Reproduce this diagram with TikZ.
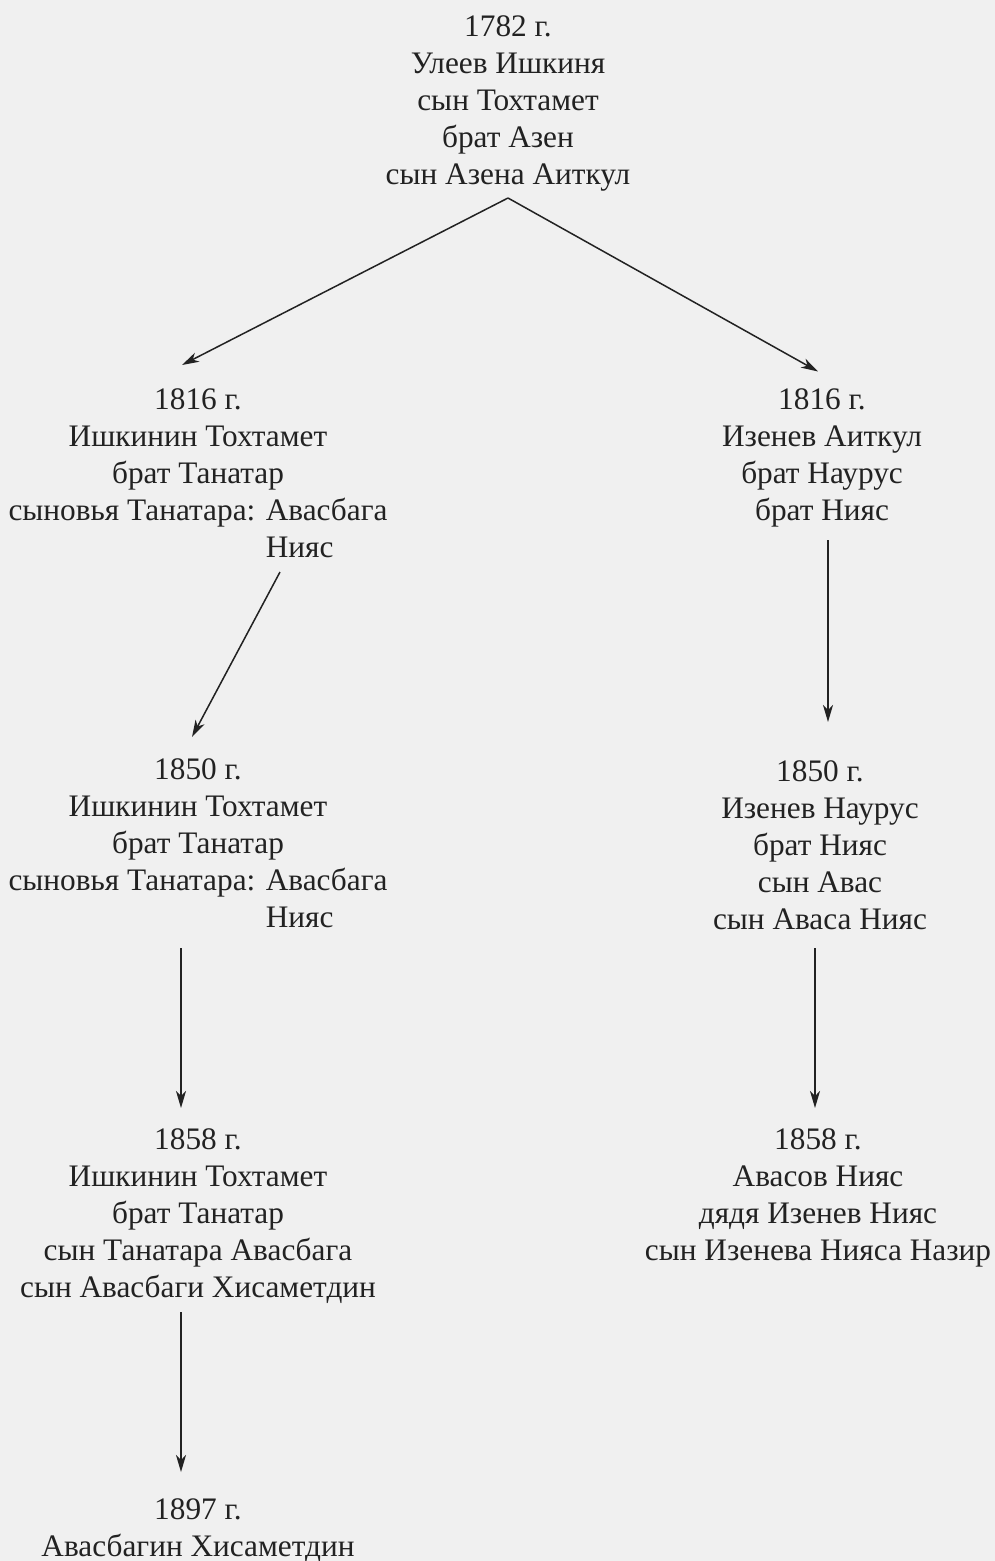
\documentclass[tikz,border=0pt]{standalone}
\usepackage{fontspec}
\setmainfont{Liberation Serif}
\usetikzlibrary{arrows.meta}
\definecolor{bg}{HTML}{F0F0F0}
\definecolor{ink}{HTML}{222222}
\tikzset{
  gen/.style={align=center, inner sep=0pt, text=ink, font=\fontsize{31.3}{37}\selectfont},
  arr/.style={draw=ink, line width=1.5pt, -{Stealth[length=17pt,width=10pt,inset=5pt]}}
}
\begin{document}
\begin{tikzpicture}[x=1pt,y=-1pt]
\fill[bg] (0,0) rectangle (995,1561);
\useasboundingbox (0,0) rectangle (995,1561);
\node[gen] (top) at (508,103) {1782 г.\\Улеев Ишкиня\\сын Тохтамет\\брат Азен\\сын Азена Аиткул};
\node[gen] (l1816) at (198,476) {1816 г.\\Ишкинин Тохтамет\\брат Танатар\\сыновья Танатара: Авасбага\\\phantom{сыновья Танатара: }\rlap{Нияс}\phantom{Авасбага}};
\node[gen] (r1816) at (822,457.5) {1816 г.\\Изенев Аиткул\\брат Наурус\\брат Нияс};
\node[gen] (l1850) at (198,846) {1850 г.\\Ишкинин Тохтамет\\брат Танатар\\сыновья Танатара: Авасбага\\\phantom{сыновья Танатара: }\rlap{Нияс}\phantom{Авасбага}};
\node[gen] (r1850) at (820,845) {1850 г.\\Изенев Наурус\\брат Нияс\\сын Авас\\сын Аваса Нияс};
\node[gen] (l1858) at (198,1216) {1858 г.\\Ишкинин Тохтамет\\брат Танатар\\сын Танатара Авасбага\\сын Авасбаги Хисаметдин};
\node[gen] (r1858) at (818,1197.5) {1858 г.\\Авасов Нияс\\дядя Изенев Нияс\\сын Изенева Нияса Назир};
\node[gen] (l1897) at (198,1530.5) {1897 г.\\Авасбагин Хисаметдин};
\draw[arr] ([shift={(0,95)}]top.center) -- ([shift={(-16,-111)}]l1816.center);
\draw[arr] ([shift={(0,95)}]top.center) -- ([shift={(-4,-86)}]r1816.center);
\draw[arr] ([shift={(82,96)}]l1816.center) -- ([shift={(-6,-109)}]l1850.center);
\draw[arr] ([shift={(6,82.5)}]r1816.center) -- ([shift={(8,-123)}]r1850.center);
\draw[arr] ([shift={(-17,102)}]l1850.center) -- ([shift={(-17,-108)}]l1858.center);
\draw[arr] ([shift={(-5,103)}]r1850.center) -- ([shift={(-3,-89.5)}]r1858.center);
\draw[arr] ([shift={(-17,96)}]l1858.center) -- ([shift={(-17,-58.5)}]l1897.center);
\end{tikzpicture}
\end{document}
